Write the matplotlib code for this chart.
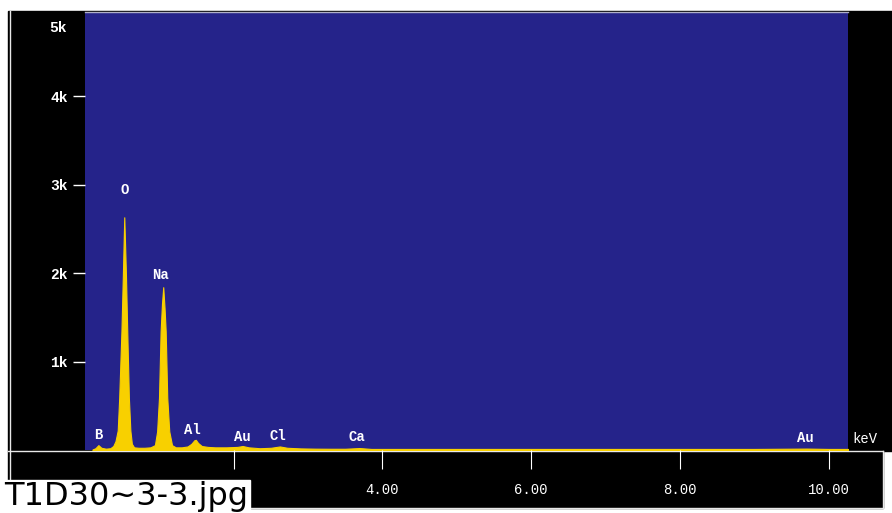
import matplotlib
matplotlib.use("Agg")
import matplotlib.pyplot as plt
from matplotlib.patches import Rectangle
from matplotlib.lines import Line2D

# spectrum (keV, counts)
energy = [0.10, 0.14, 0.18, 0.22, 0.28, 0.34, 0.38, 0.41, 0.44, 0.46, 0.49,
          0.51, 0.528, 0.55, 0.568, 0.59, 0.61, 0.63, 0.66, 0.72, 0.80, 0.88,
          0.94, 0.97, 0.995, 1.017, 1.035, 1.052, 1.07, 1.085, 1.106, 1.133,
          1.17, 1.22, 1.30, 1.38, 1.43, 1.47, 1.49, 1.52, 1.57, 1.65, 1.75,
          1.90, 2.05, 2.12, 2.20, 2.35, 2.50, 2.62, 2.72, 2.90, 3.10, 3.30,
          3.50, 3.69, 3.85, 4.20, 5.00, 6.00, 7.00, 8.00, 9.00, 9.71, 10.00,
          10.26]
counts = [5, 20, 55, 25, 15, 20, 45, 100, 220, 590, 1340,
          2000, 2630, 2000, 1340, 590, 220, 70, 30, 25, 25, 30,
          55, 210, 590, 1340, 1650, 1840, 1600, 1340, 590, 210,
          55, 30, 30, 40, 70, 110, 115, 80, 45, 35, 30,
          30, 35, 45, 30, 20, 25, 40, 25, 18, 15, 14,
          14, 22, 12, 12, 12, 12, 12, 12, 12, 16, 12,
          12]

# element labels (name, keV, counts at label centre)
elements = ["B", "O", "Na", "Al", "Au", "Cl", "Ca", "Au"]
element_kev = [0.18, 0.53, 1.01, 1.45, 2.11, 2.60, 3.65, 9.69]
element_y = [170, 2940, 1980, 230, 150, 160, 150, 140]

x_ticks = [2, 4, 6, 8, 10]
x_tick_labels = ["", "4.00", "6.00", "8.00", "10.00"]  # 2.00 sits under the file name box
y_ticks = [1000, 2000, 3000, 4000]
y_tick_labels = ["1k", "2k", "3k", "4k"]

W, H = 892, 513
BLUE = "#25238a"
YELLOW = "#f8d000"
MONO = ["Liberation Mono", "DejaVu Sans Mono"]


def fx(x):
    return x / W


def fy(y):
    return 1 - y / H


fig = plt.figure(figsize=(W / 100, H / 100), dpi=100, facecolor="white")

# black instrument panel and axis bar
fig.patches.append(Rectangle((fx(8), fy(451)), fx(892 - 8), (451 - 11) / H,
                             transform=fig.transFigure, color="black", zorder=-2))
fig.patches.append(Rectangle((fx(8), fy(508)), fx(883 - 8), (508 - 451) / H,
                             transform=fig.transFigure, color="black", zorder=-2))
for xs, ys in [((8, 883), (451, 451)), ((883, 883), (451, 508)),
               ((250, 883), (508, 508)), ((10, 10), (11, 480))]:
    fig.lines.append(Line2D([fx(xs[0]), fx(xs[1])], [fy(ys[0]), fy(ys[1])],
                            transform=fig.transFigure, color="#e8e8e8", lw=1,
                            zorder=-1))

ax = fig.add_axes([fx(85), fy(450), fx(848 - 85), (450 - 12) / H])
ax.set_facecolor(BLUE)
ax.fill_between(energy, counts, 0, color=YELLOW, lw=0.8, edgecolor=YELLOW)
ax.set_xlim(0, 10.26)
ax.set_ylim(0, 4950)

for name, xk, yk in zip(elements, element_kev, element_y):
    ax.text(xk, yk, name, color="white", fontsize=10, fontweight="bold",
            family=MONO, ha="center", va="center")

ax.set_yticks(y_ticks)
ax.set_yticklabels(y_tick_labels)
ax.set_xticks(x_ticks)
ax.set_xticklabels(x_tick_labels)
ax.tick_params(axis="y", direction="out", length=8.5, width=1, color="white",
               labelcolor="white", pad=4, labelsize=10.5)
ax.tick_params(axis="x", direction="out", length=14, width=0.8, color="white",
               labelcolor="white", pad=10, labelsize=10)
for lab in ax.get_yticklabels():
    lab.set_family(MONO)
    lab.set_fontweight("bold")
for lab in ax.get_xticklabels():
    lab.set_family(MONO)
for side in ["left", "right", "bottom"]:
    ax.spines[side].set_visible(False)
ax.spines["top"].set_color("#b0b0c8")
ax.spines["top"].set_linewidth(1)

fig.text(fx(67), fy(28), "5k", color="white", fontsize=10.5, fontweight="bold",
         family=MONO, ha="right", va="center")
fig.text(fx(865), fy(439), "keV", color="white", fontsize=10, family=MONO,
         ha="center", va="center")

# file name box
fig.patches.append(Rectangle((0, 0), fx(250), (513 - 480) / H,
                             transform=fig.transFigure, color="white", zorder=5))
fig.text(fx(4), fy(497), "T1D30~3-3.jpg", color="black", fontsize=23,
         family="DejaVu Sans", ha="left", va="center", zorder=6)

fig.savefig("out.png", dpi=100, facecolor="white")
